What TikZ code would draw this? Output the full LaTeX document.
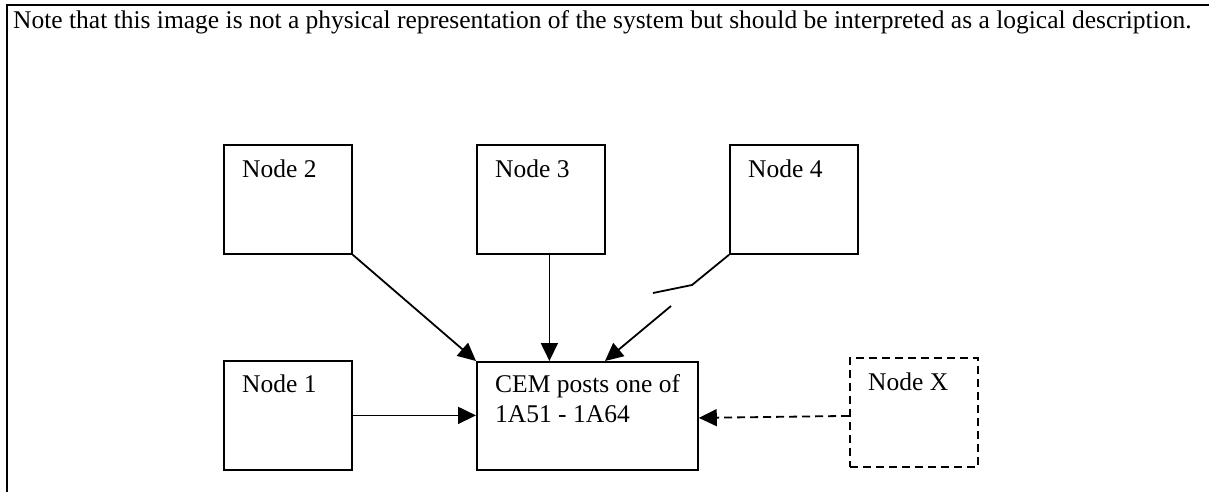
\documentclass[tikz,border=0pt]{standalone}
\usepackage{fontspec}
\setmainfont{Liberation Serif}
\usetikzlibrary{arrows.meta}
\begin{document}
\begin{tikzpicture}[x=1pt,y=-1pt,
  every node/.style={font=\fontsize{25.5}{30}\selectfont},
  box/.style={draw,line width=1.8pt,inner sep=0pt,anchor=north west,
    minimum width=128pt,minimum height=109pt},
  dashbox/.style={box,dash pattern=on 8pt off 5pt},
  lbl/.style={anchor=base west,inner sep=0pt},
  arr/.style={line width=1.8pt,-{Triangle[length=18pt,width=17pt]}},
  link/.style={line width=1.8pt}]
\useasboundingbox (0,0) rectangle (1209,492);
% outer frame (top and left edges)
\draw[line width=2.2pt] (1209,5) -- (7,5) -- (7,492);
\node[lbl] (note) at (13,29) {Note that this image is not a physical representation of the system but should be interpreted as a logical description.};
% boxes
\node[box] (n2) at (223,144) {};
\node[box] (n3) at (476,144) {};
\node[box] (n4) at (729,144) {};
\node[box] (n1) at (223,360) {};
\node[box,minimum width=221pt,minimum height=108pt] (cem) at (476,361) {};
\node[dashbox,minimum width=128pt] (nx) at (849,357) {};
% labels
\node[lbl] (n2t) at (242,177) {Node 2};
\node[lbl] (n3t) at (495,177) {Node 3};
\node[lbl] (n4t) at (748,177) {Node 4};
\node[lbl] (n1t) at (242,392) {Node 1};
\node[lbl] (cemt) at (495,392) {CEM posts one of};
\node[lbl] (cemu) at (495,422) {1A51 - 1A64};
\node[lbl] (nxt) at (868,390) {Node X};
% connectors
\draw[arr] (n2.south east) -- (cem.north west);
\draw[arr] ([xshift=8.5pt]n3.south) -- ([xshift=8.5pt]n3.south |- cem.north);
\draw[arr] (n1) -- (n1 -| cem.west);
\coordinate (k1) at (692,285);
\coordinate (k2) at (653,293);
\coordinate (k3) at (671,306);
\draw[link] (n4.south west) -- (k1) -- (k2);
\draw[arr] (k3) -- ([xshift=129pt]cem.north west);
\draw[arr,dash pattern=on 8pt off 5pt] ([yshift=-3.5pt]nx.west) -- ([yshift=-2pt]cem.east);
\end{tikzpicture}
\end{document}
